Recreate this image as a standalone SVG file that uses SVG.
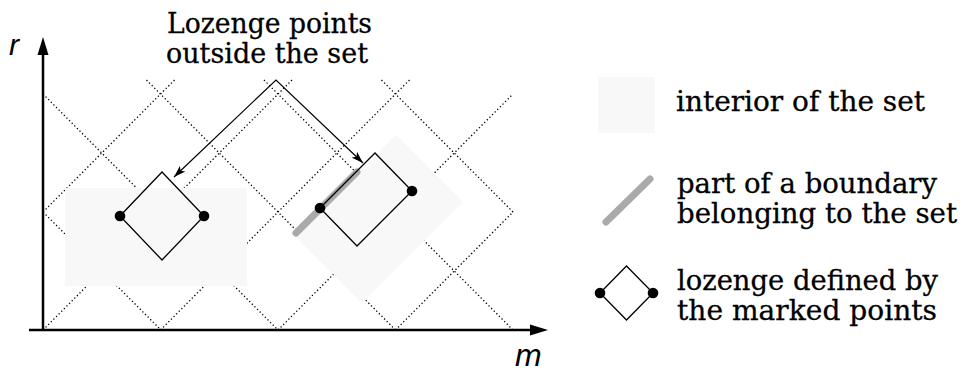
<svg xmlns="http://www.w3.org/2000/svg" width="960" height="372" viewBox="0 0 960 372">
<defs>
<style>
.grid{fill:none;stroke:#000;stroke-width:1.3;stroke-dasharray:1.3 2.4}
.interior{fill:#f8f8f8;stroke:none}
.bnd{stroke:#aaaaaa;stroke-width:7;stroke-linecap:round;fill:none}
.loz{fill:none;stroke:#000;stroke-width:1.3;stroke-linejoin:miter}
.dot{fill:#000}
.axis{stroke:#000;stroke-width:2.5;fill:none}
.conn{fill:none;stroke:#000;stroke-width:1.2}
.txt{font-family:'DejaVu Serif','Liberation Serif',serif;font-size:27px;fill:#000;stroke:#000;stroke-width:0.3}
.ax{font-family:'Liberation Sans',Arial,sans-serif;font-style:italic;fill:#000}
</style>
<marker id="ah" viewBox="0 0 12 8" refX="12" refY="4" markerWidth="12" markerHeight="8" markerUnits="userSpaceOnUse" orient="auto-start-reverse">
<path d="M0,0 L12,4 L0,8 L3,4 z" fill="#000"/>
</marker>
</defs>
<rect width="960" height="372" fill="#fff"/>
<g id="grid">
<path class="grid" d="M43,330 L292,80 M160.5,330 L409.5,80 M278,330 L513,94 M395.5,330 L513,212 M43,212 L174.5,80 M43,94 L278,330 M43,212 L161,330 M146.5,80 L395.5,330 M264,80 L513,330 M381.5,80 L513,212"/>
</g>
<g id="set-interior">
<rect class="interior" x="65" y="188" width="182" height="98"/>
<polygon class="interior" points="396,135 463,202 362,303 295,236"/>
</g>
<g id="set-boundary">
<line class="bnd" x1="296" y1="233" x2="357" y2="172"/>
</g>
<g id="lozenge-left">
<polygon class="loz" points="120,216 162,172 204,216 162,260"/>
<circle class="dot" cx="120" cy="216" r="5.3"/>
<circle class="dot" cx="204" cy="216" r="5.3"/>
</g>
<g id="lozenge-right">
<polygon class="loz" points="320,208 375,153 412,191 357,246"/>
<circle class="dot" cx="320" cy="208" r="5.3"/>
<circle class="dot" cx="412" cy="191" r="5.3"/>
</g>
<g id="axes">
<line class="axis" x1="43" y1="331" x2="43" y2="50"/>
<path d="M43,37 L48.5,55 L37.5,55 z" fill="#000"/>
<line class="axis" x1="29" y1="330" x2="535" y2="330"/>
<path d="M548,330 L530,324.5 L530,335.5 z" fill="#000"/>
<text class="ax" x="9" y="55" font-size="30">r</text>
<text class="ax" x="515" y="366" font-size="32">m</text>
</g>
<g id="connectors">
<path class="conn" d="M174,177 L276,80 L363,163" marker-start="url(#ah)" marker-end="url(#ah)"/>
</g>
<g id="label-title">
<text class="txt" x="167" y="33" textLength="205" lengthAdjust="spacingAndGlyphs">Lozenge points</text>
<text class="txt" x="166" y="63" textLength="202" lengthAdjust="spacingAndGlyphs">outside the set</text>
</g>
<g id="legend-interior">
<rect class="interior" x="598" y="77" width="57" height="56"/>
<text class="txt" x="676" y="111" textLength="249" lengthAdjust="spacingAndGlyphs">interior of the set</text>
</g>
<g id="legend-boundary">
<line class="bnd" x1="606" y1="222" x2="650" y2="179"/>
<text class="txt" x="677" y="193" textLength="260" lengthAdjust="spacingAndGlyphs">part of a boundary</text>
<text class="txt" x="677" y="223" textLength="280" lengthAdjust="spacingAndGlyphs">belonging to the set</text>
</g>
<g id="legend-lozenge">
<polygon class="loz" points="600,293 626.5,266 653,293 626.5,320"/>
<circle class="dot" cx="600" cy="293" r="5.3"/>
<circle class="dot" cx="653" cy="293" r="5.3"/>
<text class="txt" x="677" y="290" textLength="261" lengthAdjust="spacingAndGlyphs">lozenge defined by</text>
<text class="txt" x="677" y="320" textLength="260" lengthAdjust="spacingAndGlyphs">the marked points</text>
</g>
</svg>
